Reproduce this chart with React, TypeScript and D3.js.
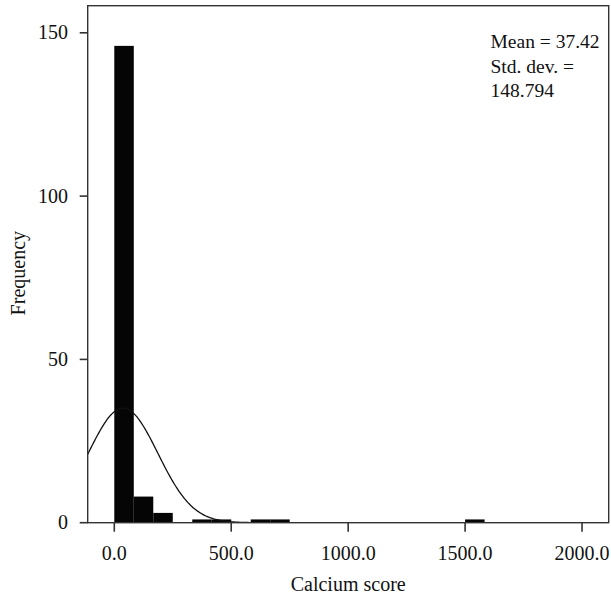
import { useEffect, useRef } from 'react';
import * as d3 from 'd3';

// Histogram counts, one per bin of width binWidth starting at 0
const binWidth = 2000 / 24;
const counts = [146, 8, 3, 0, 1, 1, 0, 1, 1, 0, 0, 0, 0, 0, 0, 0, 0, 0, 1];
const xTicks = [0, 500, 1000, 1500, 2000];
const yTicks = [0, 50, 100, 150];
const meanValue = 37.42;
const stdDev = 148.794;
const sampleSize = 157;
const statLines = ['Mean = 37.42', 'Std. dev. =', '148.794'];

const W = 611;
const H = 598;
const FONT = '"Liberation Serif", "DejaVu Serif", serif';

export default function App() {
  const svgRef = useRef<SVGSVGElement>(null);

  useEffect(() => {
    if (!svgRef.current) return;
    const svg = d3.select(svgRef.current);
    svg.selectAll('*').remove();

    const left = 87.7, right = 608.7, top = 5.7, bottom = 522.7;
    const x = d3.scaleLinear().domain([-113.7, 2114]).range([left, right]);
    const y = d3.scaleLinear().domain([0, 158.3]).range([bottom, top]);

    svg.append('clipPath').attr('id', 'plot-clip')
      .append('rect')
      .attr('x', left).attr('y', top)
      .attr('width', right - left).attr('height', bottom - top);

    // bars
    const bins = counts.map((c, i) => ({ x0: i * binWidth, x1: (i + 1) * binWidth, c }));
    svg.append('g')
      .selectAll('rect')
      .data(bins.filter(b => b.c > 0))
      .enter()
      .append('rect')
      .attr('x', d => x(d.x0))
      .attr('width', d => x(d.x1) - x(d.x0))
      .attr('y', d => y(d.c))
      .attr('height', d => y(0) - y(d.c))
      .attr('fill', '#050505');

    // fitted normal curve
    const scale = sampleSize * binWidth / (stdDev * Math.sqrt(2 * Math.PI));
    const xs = d3.range(-120, 2120, 4);
    const line = d3.line<number>()
      .x(v => x(v))
      .y(v => y(scale * Math.exp(-0.5 * ((v - meanValue) / stdDev) ** 2)))
      .curve(d3.curveBasis);
    svg.append('path')
      .attr('clip-path', 'url(#plot-clip)')
      .attr('d', line(xs) || '')
      .attr('fill', 'none')
      .attr('stroke', '#111')
      .attr('stroke-width', 1.3);

    // frame
    svg.append('rect')
      .attr('x', left).attr('y', top)
      .attr('width', right - left).attr('height', bottom - top)
      .attr('fill', 'none')
      .attr('stroke', '#333')
      .attr('stroke-width', 1.4);

    // x axis ticks
    const xg = svg.append('g');
    xTicks.forEach(t => {
      xg.append('line')
        .attr('x1', x(t)).attr('x2', x(t))
        .attr('y1', bottom).attr('y2', bottom + 9)
        .attr('stroke', '#333').attr('stroke-width', 1.6);
      xg.append('text')
        .attr('x', x(t)).attr('y', 560)
        .attr('text-anchor', 'middle')
        .attr('font-family', FONT).attr('font-size', 20)
        .attr('fill', '#111')
        .text(t.toFixed(1));
    });

    // y axis ticks
    const yg = svg.append('g');
    yTicks.forEach(t => {
      yg.append('line')
        .attr('x1', left - 8).attr('x2', left)
        .attr('y1', y(t)).attr('y2', y(t))
        .attr('stroke', '#333').attr('stroke-width', 1.6);
      yg.append('text')
        .attr('x', 68).attr('y', y(t))
        .attr('dy', '0.33em')
        .attr('text-anchor', 'end')
        .attr('font-family', FONT).attr('font-size', 20)
        .attr('fill', '#111')
        .text(t);
    });

    // axis titles
    svg.append('text')
      .attr('x', (left + right) / 2).attr('y', 591)
      .attr('text-anchor', 'middle')
      .attr('font-family', FONT).attr('font-size', 20)
      .attr('fill', '#111')
      .text('Calcium score');

    svg.append('text')
      .attr('transform', `translate(25, ${(top + bottom) / 2 + 9}) rotate(-90)`)
      .attr('text-anchor', 'middle')
      .attr('font-family', FONT).attr('font-size', 20)
      .attr('fill', '#111')
      .text('Frequency');

    // stats box text
    statLines.forEach((s, i) => {
      svg.append('text')
        .attr('x', 490.5).attr('y', 48.3 + i * 24.4)
        .attr('font-family', FONT).attr('font-size', 19.5)
        .attr('fill', '#111')
        .text(s);
    });
  }, []);

  return (
    <svg
      ref={svgRef}
      width={W}
      height={H}
      style={{ position: 'absolute', left: 0, top: 0, background: '#fff' }}
    />
  );
}
